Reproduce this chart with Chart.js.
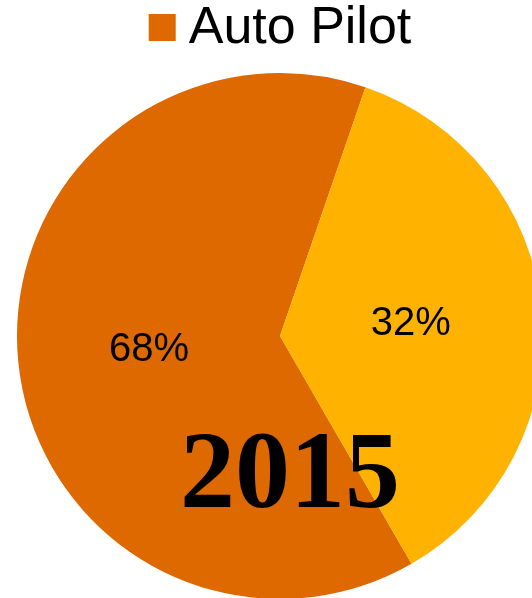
<!DOCTYPE html>
<html>
<head>
<meta charset="utf-8">
<script src="https://cdn.jsdelivr.net/npm/chart.js@4/dist/chart.umd.min.js"></script>
<style>
  html, body { margin: 0; padding: 0; background: #fff; overflow: hidden; }
  #wrap { width: 560px; height: 600px; }
</style>
</head>
<body>
<div id="wrap"><canvas id="myChart" width="560" height="600"></canvas></div>
<script>
// slice shares as drawn (angles), and the printed labels
const labels = ['Auto Pilot', ''];
const shares = [63.6, 36.4];
const pctLabels = ['68%', '32%'];
const sliceColors = ['#dd6900', '#ffb300'];
const yearText = '2015';

const ctx = document.getElementById('myChart');

// legend: only the first item, small gap between box and text
const topLegend = {
  id: 'topLegend',
  afterDraw(chart) {
    const c = chart.ctx;
    const font = '52px "Liberation Sans", Arial, sans-serif';
    c.save();
    c.font = font;
    const text = chart.data.labels[0];
    const tw = c.measureText(text).width;
    const box = 27, gap = 13;
    const total = box + gap + tw;
    let x = chart.width / 2 - total / 2;
    c.fillStyle = chart.data.datasets[0].backgroundColor[0];
    c.fillRect(x, 14, box, box);
    c.fillStyle = '#000';
    c.textBaseline = 'alphabetic';
    c.textAlign = 'left';
    c.fillText(text, x + box + gap, 43);
    c.restore();
  }
};

// percent labels at mid radius, plus the year overlay
const sliceLabels = {
  id: 'sliceLabels',
  afterDatasetsDraw(chart) {
    const c = chart.ctx;
    const meta = chart.getDatasetMeta(0);
    c.save();
    c.font = '40px "Liberation Sans", Arial, sans-serif';
    c.fillStyle = '#000';
    c.textAlign = 'center';
    c.textBaseline = 'middle';
    meta.data.forEach((arc, i) => {
      const p = arc.tooltipPosition();
      c.fillText(pctLabels[i], p.x, p.y + 1);
    });
    c.font = 'bold 110px "Liberation Serif", "Times New Roman", serif';
    c.textBaseline = 'alphabetic';
    c.fillText(yearText, 290, 507);
    c.restore();
  }
};

c = new Chart(ctx, {
  type: 'pie',
  data: {
    labels: labels,
    datasets: [{
      data: shares,
      backgroundColor: sliceColors,
      borderWidth: 0
    }]
  },
  options: {
    responsive: false,
    animation: false,
    rotation: 150,
    layout: {
      padding: { top: 73, bottom: 1, left: 17, right: 17 }
    },
    plugins: {
      legend: { display: false },
      tooltip: { enabled: false }
    }
  },
  plugins: [topLegend, sliceLabels]
});
</script>
</body>
</html>
